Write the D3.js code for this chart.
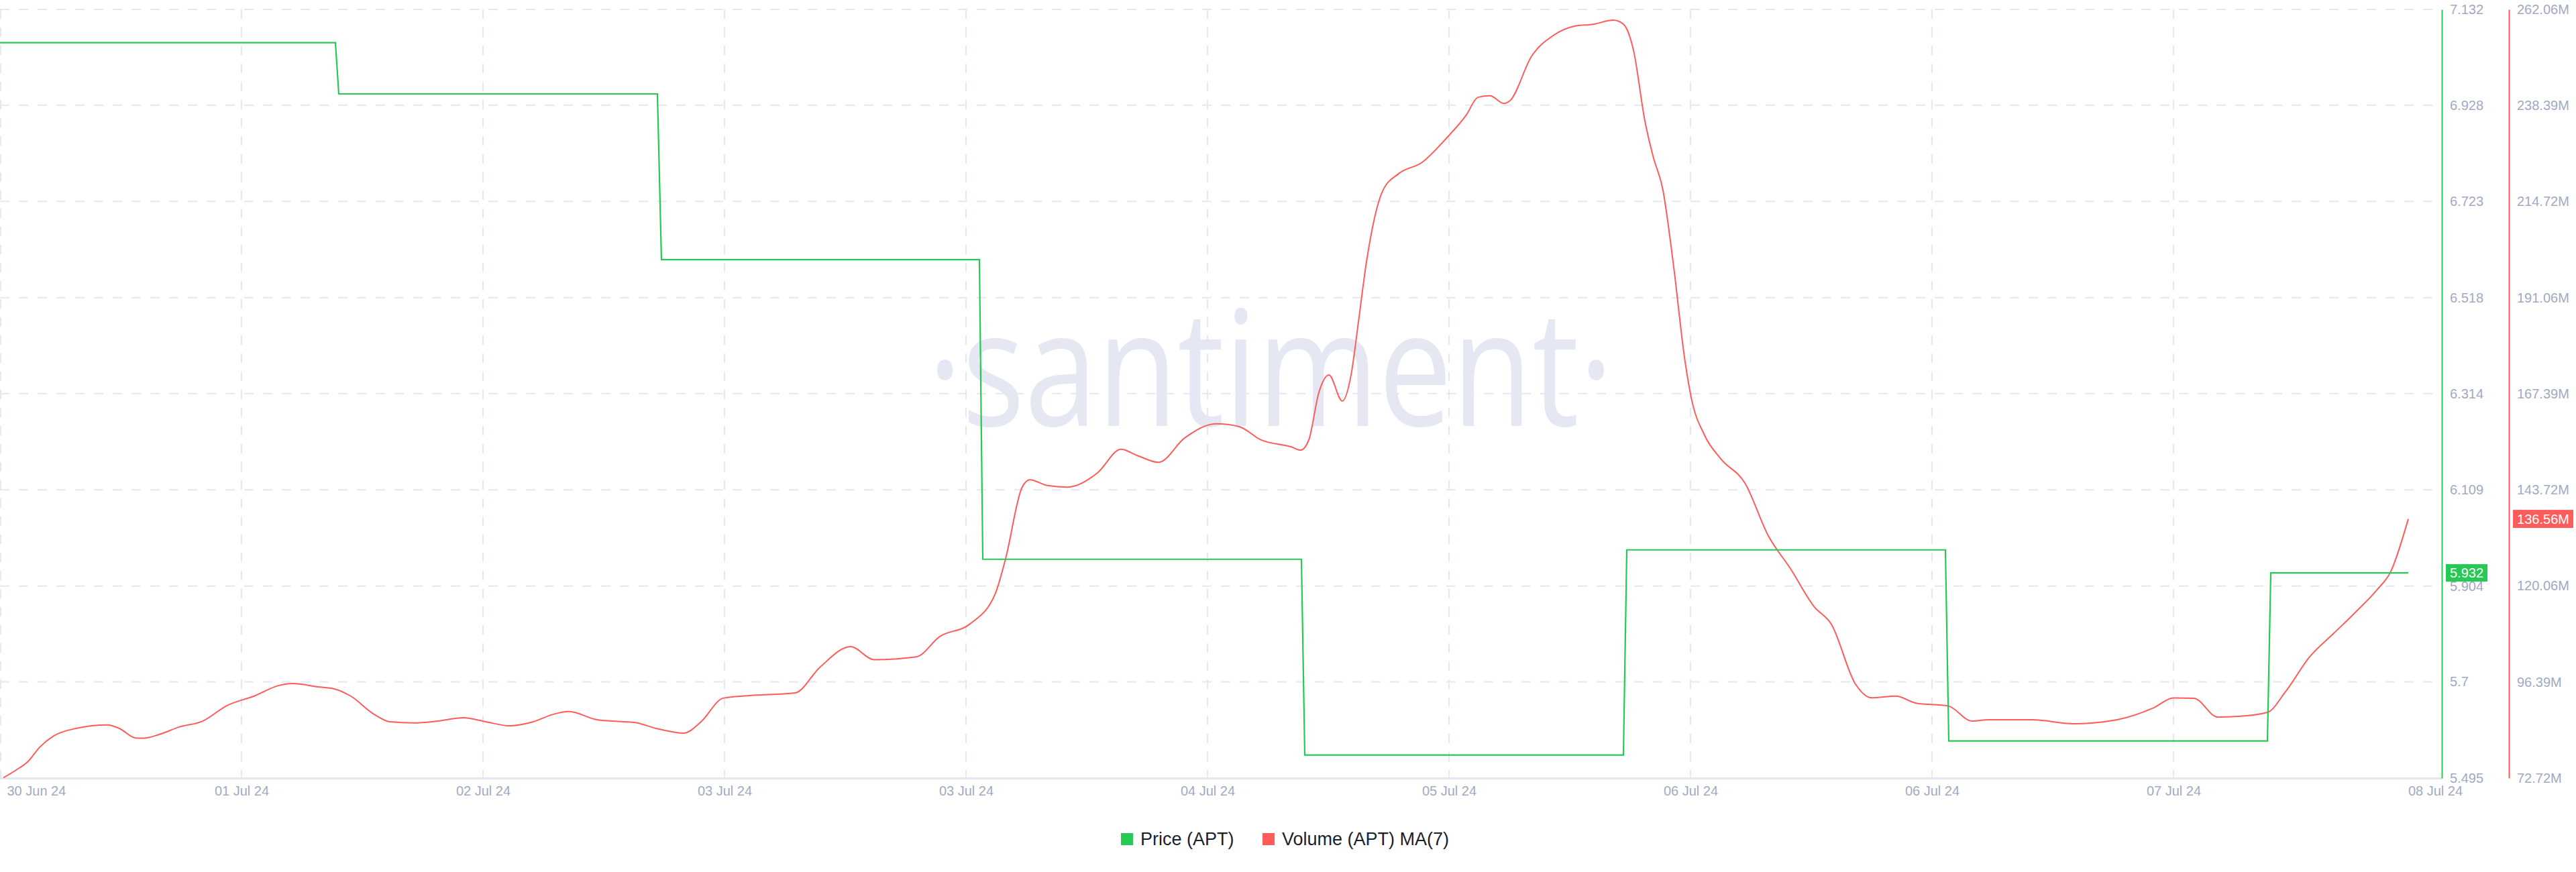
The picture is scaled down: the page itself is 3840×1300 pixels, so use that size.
<!DOCTYPE html>
<html>
<head>
<meta charset="utf-8">
<script src="https://cdn.jsdelivr.net/npm/d3@7"></script>
<style>
  html, body { margin: 0; padding: 0; background: #ffffff; }
  svg { display: block; }
</style>
</head>
<body>
<svg id="chart" width="3840" height="1300"></svg>
<script>
// ---------------- DATA ----------------
const startTime = Date.UTC(2024, 5, 30, 20, 0); // left edge of the chart
const domainHours = 182;

const priceHours  = [0, 25, 25.25, 49, 49.3, 73, 73.25, 97, 97.25, 121, 121.25, 145, 145.25, 169, 169.25, 179.5];
const priceValues = [7.061, 7.061, 6.952, 6.952, 6.599, 6.599, 5.961, 5.961, 5.544, 5.544, 5.981, 5.981, 5.574, 5.574, 5.932, 5.932];

const volumeHours = [0.25, 1.2, 2.1, 2.95, 4.0, 5.65, 8.0, 8.9, 10.1, 10.7, 11.85, 13.35, 15.1, 16.9, 19.0, 20.75, 21.8, 23.7, 24.9, 26.1,
  27.9, 29.05, 30.85, 32.6, 34.55, 36.2, 37.95, 39.75, 41.2, 42.4, 44.5, 46.5, 47.35, 48.85, 50.95, 52.25, 53.9, 55.7, 59.25, 61.15,
  63.4, 65.15, 68.3, 70.05, 72.3, 74.2, 74.95, 76.15, 76.75, 78.05, 79.55, 81.8, 83.55, 84.75, 86.35, 88.3, 90.65, 92.35, 94.0, 96.25,
  96.95, 97.55, 98.3, 99.05, 100.05, 100.7, 101.25, 101.85, 103.05, 104.25, 106.0, 107.8, 109.3, 110.15, 111.05, 112.1, 112.55, 114.15, 115.8, 117.3,
  118.75, 120.25, 121.0, 121.75, 122.6, 123.2, 123.95, 124.7, 125.6, 126.05, 127.05, 128.25, 130.05, 131.8, 133.45, 135.2, 136.5, 138.3, 139.5, 141.3,
  142.8, 145.2, 147.0, 148.2, 151.5, 154.5, 157.8, 160.5, 162.0, 163.5, 165.3, 166.8, 169.0, 170.35, 172.15, 173.95, 175.45, 177.25, 178.15, 179.5];
const volumeValues = [72.8, 74.7, 76.85, 80.3, 83.1, 84.95, 85.8, 84.95, 82.6, 82.55, 83.45, 85.3, 86.75, 90.55, 93.0, 95.5, 96.0, 95.2, 94.7, 93.0,
  88.4, 86.6, 86.3, 86.75, 87.6, 86.6, 85.6, 86.6, 88.4, 89.1, 87.1, 86.6, 86.4, 85.0, 83.8, 86.6, 92.4, 93.0, 93.7, 100.15,
  105.1, 101.9, 102.6, 107.6, 110.7, 118.3, 126.75, 144.1, 146.2, 144.8, 144.4, 147.9, 153.7, 152.2, 150.5, 156.5, 160.0, 159.3, 156.0, 154.3,
  153.5, 156.0, 167.7, 172.0, 165.6, 172.0, 185.1, 199.9, 217.3, 221.6, 224.4, 230.3, 236.1, 240.4, 240.8, 238.9, 239.6, 250.5, 255.7, 257.9,
  258.4, 259.4, 258.4, 252.0, 234.6, 226.0, 217.5, 199.9, 175.2, 166.5, 157.15, 151.4, 145.4, 132.4, 124.3, 115.0, 110.6, 95.85, 92.5, 92.9,
  91.2, 90.5, 86.75, 87.1, 87.1, 86.1, 87.1, 90.0, 92.45, 92.4, 87.75, 87.9, 88.9, 94.0, 102.6, 108.4, 113.2, 119.4, 123.3, 136.56];

const priceTicks = [7.132, 6.928, 6.723, 6.518, 6.314, 6.109, 5.904, 5.7, 5.495];
const priceTickLabels = ["7.132", "6.928", "6.723", "6.518", "6.314", "6.109", "5.904", "5.7", "5.495"];
const volumeTicks = [262.06, 238.39, 214.72, 191.06, 167.39, 143.72, 120.06, 96.39, 72.72];
const volumeTickLabels = ["262.06M", "238.39M", "214.72M", "191.06M", "167.39M", "143.72M", "120.06M", "96.39M", "72.72M"];
const xTickHours = [0, 18, 36, 54, 72, 90, 108, 126, 144, 162, 180];
const xTickLabels = ["30 Jun 24", "01 Jul 24", "02 Jul 24", "03 Jul 24", "03 Jul 24", "04 Jul 24", "05 Jul 24", "06 Jul 24", "06 Jul 24", "07 Jul 24", "08 Jul 24"];

const lastPrice = 5.932, lastPriceLabel = "5.932";
const lastVolume = 136.56, lastVolumeLabel = "136.56M";
const seriesNames = ["Price (APT)", "Volume (APT) MA(7)"];

// ---------------- LAYOUT ----------------
const GREEN = "#26c953", RED = "#ff5b5b";
const LABEL = "#9faac4", GRID = "#e6e8f1";
const FONT = "'Liberation Sans', Arial, Helvetica, sans-serif";
const plotLeft = 0, plotRight = 3640, plotTop = 14, plotBottom = 1160;
const priceAxisX = 3640, volumeAxisX = 3740;

const H = 3600 * 1000;
const toDate = h => new Date(startTime + h * H);

const svg = d3.select("#chart");

const x = d3.scaleUtc().domain([toDate(0), toDate(domainHours)]).range([plotLeft, plotRight]);
const yP = d3.scaleLinear().domain([5.495, 7.132]).range([plotBottom, plotTop]);
const yV = d3.scaleLinear().domain([72.72, 262.06]).range([plotBottom, plotTop]);

// grid
const grid = svg.append("g");
grid.selectAll("line.h").data(priceTicks).join("line")
  .attr("x1", plotLeft).attr("x2", plotRight)
  .attr("y1", d => yP(d)).attr("y2", d => yP(d))
  .attr("stroke", GRID).attr("stroke-width", 2).attr("stroke-dasharray", "14,14");
grid.selectAll("line.v").data(xTickHours.filter(h => x(toDate(h)) < plotRight - 60)).join("line")
  .attr("x1", d => x(toDate(d)) + (d === 0 ? 1 : 0)).attr("x2", d => x(toDate(d)) + (d === 0 ? 1 : 0))
  .attr("y1", plotTop).attr("y2", plotBottom)
  .attr("stroke", GRID).attr("stroke-width", 2).attr("stroke-dasharray", "14,13");

// watermark
svg.append("text")
  .attr("x", 1383).attr("y", 635)
  .attr("fill", "#e5e8f2")
  .style("font-family", "'Open Sans', 'Noto Sans', sans-serif")
  .attr("font-size", 240)
  .attr("textLength", 1022).attr("lengthAdjust", "spacingAndGlyphs")
  .text("·santiment·");

// x axis
const xAxis = d3.axisBottom(x)
  .tickValues(xTickHours.map(toDate))
  .tickFormat((d, i) => xTickLabels[i])
  .tickSize(0).tickSizeOuter(0).tickPadding(12);
const gx = svg.append("g").attr("transform", `translate(0,${plotBottom})`).call(xAxis);
gx.select(".domain").attr("stroke", "#e2e6f0").attr("stroke-width", 3);
gx.selectAll("text").attr("fill", LABEL).style("font-family", FONT).style("font-size", "20px");
gx.selectAll(".tick text").each(function(d, i) {
  const t = d3.select(this);
  if (i === 0) t.attr("text-anchor", "start").attr("dx", 10);
  if (i === xTickLabels.length - 1) t.attr("dx", 30);
});

// price axis
const pAxis = d3.axisRight(yP).tickValues(priceTicks).tickFormat((d, i) => priceTickLabels[i])
  .tickSize(0).tickSizeOuter(0).tickPadding(12);
const gp = svg.append("g").attr("transform", `translate(${priceAxisX},0)`).call(pAxis);
gp.select(".domain").attr("stroke", GREEN).attr("stroke-width", 2);
gp.selectAll("text").attr("fill", LABEL).style("font-family", FONT).style("font-size", "20px");

// volume axis
const vAxis = d3.axisRight(yV).tickValues(volumeTicks).tickFormat((d, i) => volumeTickLabels[i])
  .tickSize(0).tickSizeOuter(0).tickPadding(12);
const gv = svg.append("g").attr("transform", `translate(${volumeAxisX},0)`).call(vAxis);
gv.select(".domain").attr("stroke", RED).attr("stroke-width", 2);
gv.selectAll("text").attr("fill", LABEL).style("font-family", FONT).style("font-size", "20px");

// series
const priceData = priceHours.map((h, i) => ({ t: toDate(h), v: priceValues[i] }));
const volumeData = volumeHours.map((h, i) => ({ t: toDate(h), v: volumeValues[i] }));

svg.append("path").datum(volumeData)
  .attr("fill", "none").attr("stroke", RED).attr("stroke-width", 2).attr("stroke-linejoin", "round")
  .attr("d", d3.line().x(d => x(d.t)).y(d => yV(d.v)).curve(d3.curveMonotoneX));

svg.append("path").datum(priceData)
  .attr("fill", "none").attr("stroke", GREEN).attr("stroke-width", 2.2)
  .attr("d", d3.line().x(d => x(d.t)).y(d => yP(d.v)));

// last value badges
const pb = svg.append("g").attr("transform", `translate(${priceAxisX + 6},${yP(lastPrice)})`);
pb.append("rect").attr("x", 0).attr("y", -13).attr("width", 62).attr("height", 26).attr("fill", GREEN);
pb.append("text").attr("x", 31).attr("y", 0).attr("dy", "0.35em").attr("text-anchor", "middle")
  .attr("fill", "#fff").style("font-family", FONT).style("font-size", "20px").text(lastPriceLabel);

const vb = svg.append("g").attr("transform", `translate(${volumeAxisX + 6},${yV(lastVolume)})`);
vb.append("rect").attr("x", 0).attr("y", -13.5).attr("width", 90).attr("height", 27).attr("fill", RED);
vb.append("text").attr("x", 45).attr("y", 0).attr("dy", "0.35em").attr("text-anchor", "middle")
  .attr("fill", "#fff").style("font-family", FONT).style("font-size", "20px").text(lastVolumeLabel);

// legend
const legendColors = [GREEN, RED];
const legendX = [1671, 1882];
const lg = svg.append("g");
seriesNames.forEach((name, i) => {
  lg.append("rect").attr("x", legendX[i]).attr("y", 1242).attr("width", 18).attr("height", 18).attr("fill", legendColors[i]);
  lg.append("text").attr("x", legendX[i] + 29).attr("y", 1251).attr("dy", "0.35em")
    .attr("fill", "#1b1e2e").style("font-family", FONT).style("font-size", "27px").text(name);
});
</script>
</body>
</html>
